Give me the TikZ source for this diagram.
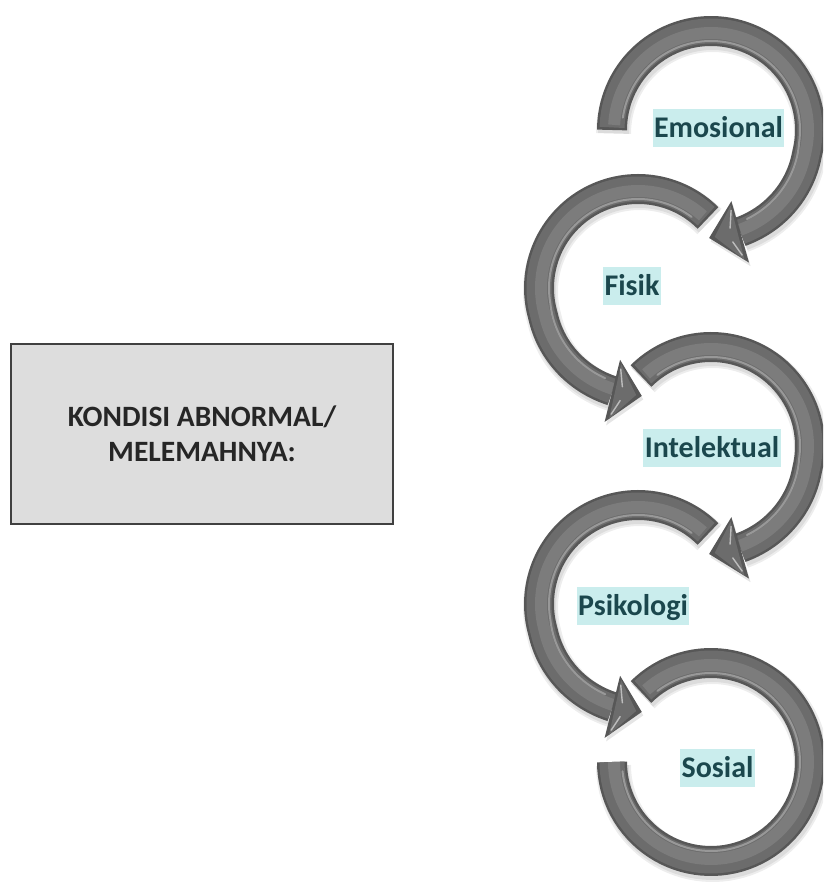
\documentclass[tikz,border=0pt]{standalone}
\usepackage{fontspec}
\setmainfont{Carlito}
\definecolor{banddark}{HTML}{575757}
\definecolor{bandmid}{HTML}{6C6C6C}
\definecolor{bandlight}{HTML}{7C7C7C}
\definecolor{lblfill}{HTML}{CAEDED}
\definecolor{lbltext}{HTML}{1B474D}
\definecolor{boxfill}{HTML}{DDDDDD}
\definecolor{boxline}{HTML}{404040}
\definecolor{boxtext}{HTML}{262626}

% curved arrow: #1 centre, #2 start angle, #3 end angle (head base),
% #4 tip angle, #5 direction sign (-1 clockwise, +1 counter-clockwise),
% #6 outward drift of the band towards its end
\newcommand\bandplot[4]{plot[domain=#1:#2, samples=90]
  ({\x}:{#4+#3*max(0,1-abs(\x-(#2))/60)})}
\newcommand\curvedarrow[6]{%
  \begin{scope}[shift={#1}]
    % soft shadow
    \begin{scope}[shift={(1.5,-3.5)}]
      \draw[line width=35pt, black, opacity=0.07] \bandplot{#2}{#3}{#6}{99};
      \draw[line width=31pt, black, opacity=0.07] \bandplot{#2}{#3}{#6}{99};
    \end{scope}
    % band
    \draw[line width=30pt, banddark] \bandplot{#2}{#3}{#6}{99};
    \draw[line width=25pt, bandmid] \bandplot{#2+1.5*#5}{#3}{#6}{99};
    \draw[line width=12pt, bandlight] \bandplot{#2+3*#5}{#3}{#6}{97};
    \draw[line width=2pt, white, opacity=0.3, line cap=round]
      \bandplot{#2+8*#5}{#3-6*#5}{#6}{89};
    \ifx\relax#4\relax\else
      % head
      \fill[black, opacity=0.10, shift={(1.5,-3.5)}]
        (#3:74) -- (#4:108) -- (#3:138) -- cycle;
      \fill[banddark] (#3:74) -- (#4:108) -- (#3:138) -- cycle;
      \fill[bandmid] (#3+1.5*#5:78) -- (#4-3*#5:107) -- (#3+1.5*#5:134) -- cycle;
      \draw[white, opacity=0.55, line width=1.4pt, line cap=round]
        (#3+2*#5:83) -- (#3+5*#5:100);
      \draw[white, opacity=0.55, line width=1.4pt, line cap=round]
        (#3+2*#5:129) -- (#3+5*#5:114);
    \fi
  \end{scope}}

\begin{document}
\begin{tikzpicture}[x=1pt,y=1pt,
  lbl/.style={fill=lblfill, text=lbltext,
    font=\fontsize{30}{36}\selectfont\bfseries,
    inner xsep=1.5pt, inner ysep=3pt, text height=26pt, text depth=6pt},
  infobox/.style={draw=boxline, line width=1.2pt, fill=boxfill,
    minimum width=382pt, minimum height=180pt, align=center,
    text=boxtext, font=\fontsize{29.5}{35}\selectfont\bfseries}]
  \useasboundingbox (0,0) rectangle (823,884);
  \clip (0,0) rectangle (823,884);

  % the chain of curved arrows, bottom first so upper heads lie on top
  \curvedarrow{(711,122)}{135}{-180}{}{-1}{0}
  \curvedarrow{(638,280)}{45}{256}{272}{1}{7}
  \curvedarrow{(711,438)}{135}{-74}{-91}{-1}{7}
  \curvedarrow{(638,596)}{45}{256}{272}{1}{7}
  \curvedarrow{(711,754)}{180}{-74}{-91}{-1}{7}

  % labels
  \node[lbl] (emo) at (718.5,756) {Emosional};
  \node[lbl] (fis) at (632,598) {Fisik};
  \node[lbl] (int) at (712,436) {Intelektual};
  \node[lbl] (psi) at (633,278) {Psikologi};
  \node[lbl] (sos) at (717.5,116) {Sosial};

  % condition box
  \node[infobox] (kond) at (202,450) {KONDISI ABNORMAL/\\MELEMAHNYA:};
\end{tikzpicture}
\end{document}
